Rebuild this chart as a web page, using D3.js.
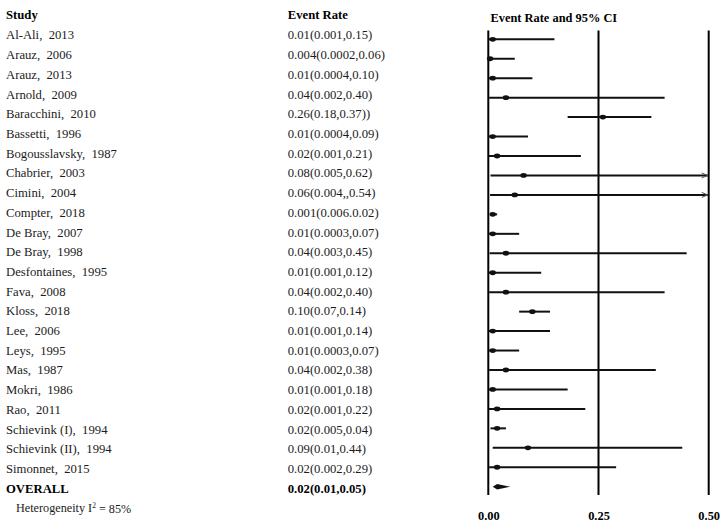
<!DOCTYPE html>
<html>
<head>
<meta charset="utf-8">
<script src="https://cdn.jsdelivr.net/npm/d3@7/dist/d3.min.js"></script>
<style>
  html, body { margin: 0; padding: 0; background: #fff; }
  svg { display: block; }
  text { font-family: "Liberation Serif", "Times New Roman", serif; }
</style>
</head>
<body>
<svg id="chart" width="724" height="532"></svg>
<script>
// ---------- data ----------
const studies = [
  "Al-Ali,  2013", "Arauz,  2006", "Arauz,  2013", "Arnold,  2009", "Baracchini,  2010",
  "Bassetti,  1996", "Bogousslavsky,  1987", "Chabrier,  2003", "Cimini,  2004", "Compter,  2018",
  "De Bray,  2007", "De Bray,  1998", "Desfontaines,  1995", "Fava,  2008", "Kloss,  2018",
  "Lee,  2006", "Leys,  1995", "Mas,  1987", "Mokri,  1986", "Rao,  2011",
  "Schievink (I),  1994", "Schievink (II),  1994", "Simonnet,  2015"
];
const rateLabels = [
  "0.01(0.001,0.15)", "0.004(0.0002,0.06)", "0.01(0.0004,0.10)", "0.04(0.002,0.40)", "0.26(0.18,0.37))",
  "0.01(0.0004,0.09)", "0.02(0.001,0.21)", "0.08(0.005,0.62)", "0.06(0.004,,0.54)", "0.001(0.006.0.02)",
  "0.01(0.0003,0.07)", "0.04(0.003,0.45)", "0.01(0.001,0.12)", "0.04(0.002,0.40)", "0.10(0.07,0.14)",
  "0.01(0.001,0.14)", "0.01(0.0003,0.07)", "0.04(0.002,0.38)", "0.01(0.001,0.18)", "0.02(0.001,0.22)",
  "0.02(0.005,0.04)", "0.09(0.01,0.44)", "0.02(0.002,0.29)"
];
const rates = [0.01, 0.004, 0.01, 0.04, 0.26, 0.01, 0.02, 0.08, 0.06, 0.01, 0.01, 0.04, 0.01, 0.04, 0.10,
               0.01, 0.01, 0.04, 0.01, 0.02, 0.02, 0.09, 0.02];
const lower = [0.001, 0.0002, 0.0004, 0.002, 0.18, 0.0004, 0.001, 0.005, 0.004, 0.006, 0.0003, 0.003, 0.001,
               0.002, 0.07, 0.001, 0.0003, 0.002, 0.001, 0.001, 0.005, 0.01, 0.002];
const upper = [0.15, 0.06, 0.10, 0.40, 0.37, 0.09, 0.21, 0.62, 0.54, 0.02, 0.07, 0.45, 0.12, 0.40, 0.14,
               0.14, 0.07, 0.38, 0.18, 0.22, 0.04, 0.44, 0.29];
const overall = { label: "OVERALL", text: "0.02(0.01,0.05)", rate: 0.02, lower: 0.01, upper: 0.05 };
const tickValues = [0, 0.25, 0.5];
const heterogeneity = "85%";

// ---------- layout ----------
const svg = d3.select("#chart");
const ink = "#1c1c1c";
const fs = 12.7;

const rowNames = studies.concat([overall.label]);
const yText = d3.scalePoint().domain(rowNames).range([35, 488.3]);
const yMark = d3.scalePoint().domain(rowNames).range([39.3, 486.7]);
const x = d3.scaleLinear().domain([0, 0.5]).range([488.3, 708.7]);

// headers
const hdr = svg.append("g").attr("font-weight", "bold").attr("fill", "#000").attr("font-size", fs);
hdr.append("text").attr("x", 6).attr("y", 15).attr("dy", "0.35em").text("Study");
hdr.append("text").attr("x", 287.7).attr("y", 15).attr("dy", "0.35em").text("Event Rate");
hdr.append("text").attr("x", 490.5).attr("y", 18).attr("dy", "0.35em").attr("font-size", 12.4).text("Event Rate and 95% CI");

// study names & labels
const rows = svg.append("g").attr("font-size", fs).attr("fill", ink);
rows.selectAll("text.name").data(studies).join("text")
  .attr("class", "name")
  .attr("x", 6).attr("y", d => yText(d)).attr("dy", "0.35em")
  .style("white-space", "pre")
  .text(d => d);
rows.selectAll("text.rate").data(rateLabels).join("text")
  .attr("class", "rate")
  .attr("x", 287.7).attr("y", (d, i) => yText(studies[i])).attr("dy", "0.35em")
  .text(d => d);

// overall text
rows.append("text").attr("x", 6).attr("y", yText(overall.label)).attr("dy", "0.35em")
  .attr("font-weight", "bold").attr("fill", "#000").text(overall.label);
rows.append("text").attr("x", 287.7).attr("y", yText(overall.label)).attr("dy", "0.35em")
  .attr("font-weight", "bold").attr("fill", "#000").text(overall.text);

// heterogeneity
const het = rows.append("text").attr("x", 16).attr("y", 508).attr("dy", "0.35em").attr("font-size", 12.2);
het.append("tspan").text("Heterogeneity I");
het.append("tspan").attr("font-size", 7.5).attr("dy", "-0.6em").text("2");
het.append("tspan").attr("dy", "0.45em").text(" = " + heterogeneity);

// reference vertical lines
svg.append("g").selectAll("line").data(tickValues).join("line")
  .attr("x1", d => x(d)).attr("x2", d => x(d))
  .attr("y1", 30.5).attr("y2", 495)
  .attr("stroke", "#000").attr("stroke-width", 2);

// axis labels
const axis = d3.axisBottom(x).tickValues(tickValues).tickFormat(d3.format(".2f")).tickSize(0).tickPadding(0);
const ax = svg.append("g").attr("transform", "translate(0,511)").call(axis);
ax.select(".domain").remove();
ax.selectAll("text").attr("font-family", "Liberation Serif, serif").attr("font-weight", "bold")
  .attr("font-size", 12.4).attr("fill", "#000");

// CI lines
const clampX = v => x(Math.min(v, 0.5));
const marks = svg.append("g");
marks.selectAll("line.ci").data(studies).join("line")
  .attr("class", "ci")
  .attr("x1", (d, i) => x(lower[i])).attr("x2", (d, i) => clampX(upper[i]))
  .attr("y1", d => yMark(d)).attr("y2", d => yMark(d))
  .attr("stroke", "#111").attr("stroke-width", 2);

// arrows for clipped upper limits
marks.selectAll("path.arrow").data(studies.filter((d, i) => upper[i] > 0.5)).join("path")
  .attr("class", "arrow")
  .attr("d", d => {
    const y0 = yMark(d), x0 = x(0.5) - 1;
    return `M${x0 - 6},${y0 - 2.5}L${x0},${y0}L${x0 - 6},${y0 + 2.5}`;
  })
  .attr("fill", "none").attr("stroke", "#555").attr("stroke-width", 1);

// point estimates
marks.selectAll("ellipse.pt").data(studies).join("ellipse")
  .attr("class", "pt")
  .attr("cx", (d, i) => x(rates[i])).attr("cy", d => yMark(d))
  .attr("rx", 3.2).attr("ry", 2.4)
  .attr("fill", "#111");

// overall diamond
const oy = yMark(overall.label);
marks.append("path")
  .attr("d", `M${x(overall.lower)},${oy}L${x(overall.rate)},${oy - 2.8}L${x(overall.upper)},${oy}L${x(overall.rate)},${oy + 2.8}Z`)
  .attr("fill", "#111");
</script>
</body>
</html>
